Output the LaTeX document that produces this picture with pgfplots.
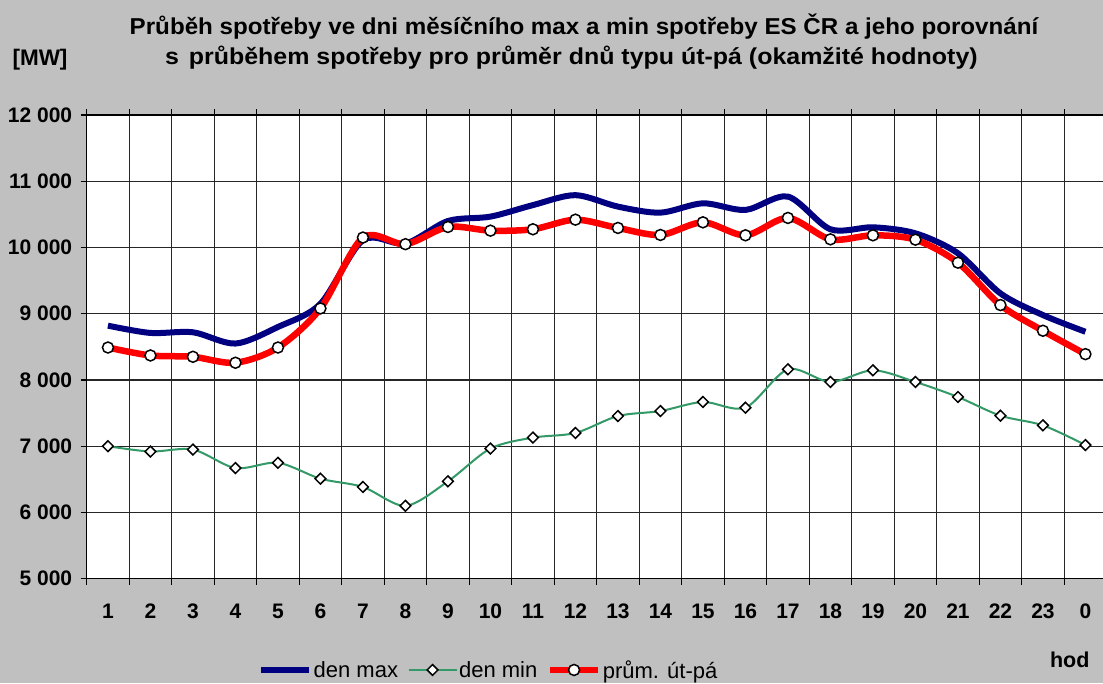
\documentclass[border=0pt]{standalone}
\usepackage{fontspec}
\setmainfont{Liberation Sans}
\usepackage{pgfplots}
\pgfplotsset{compat=1.18}
\definecolor{bg}{HTML}{C0C0C0}
\definecolor{navyc}{HTML}{000080}
\definecolor{greenc}{HTML}{339966}

\pgfplotstableread{
h max min avg
1  8820 7000 8490
2  8710 6920 8370
3  8720 6950 8350
4  8550 6670 8260
5  8800 6750 8490
6  9150 6510 9080
7  10110 6385 10150
8  10060 6100 10050
9  10400 6470 10310
10 10466 6965 10254
11 10640 7130 10275
12 10790 7200 10420
13 10617 7456 10295
14 10526 7531 10189
15 10667 7668 10380
16 10567 7582 10184
17 10768 8161 10446
18 10275 7970 10123
19 10305 8146 10184
20 10214 7970 10118
21 9912 7743 9771
22 9307 7461 9131
23 8980 7315 8743
24 8728 7018 8390
}\data

\begin{document}
\begin{tikzpicture}[x=1pt,y=1pt]
\fill[bg] (0,0) rectangle (1103,683);
\clip (0,0) rectangle (1103,683);
\begin{axis}[
  at={(86.7pt,104.3pt)}, anchor=south west,
  scale only axis, width=1020pt, height=463.7pt,
  xmin=0.5, xmax=24.5, ymin=5000, ymax=12000,
  scaled y ticks=false,
  axis background/.style={fill=white},
  xtick={1,2,3,4,5,6,7,8,9,10,11,12,13,14,15,16,17,18,19,20,21,22,23,24},
  xticklabels={1,2,3,4,5,6,7,8,9,10,11,12,13,14,15,16,17,18,19,20,21,22,23,0},
  minor xtick={0.5,1.5,...,24.5},
  xminorgrids=true, ymajorgrids=true,
  minor grid style={black!85, line width=1.2pt},
  major grid style={black!85, line width=1.2pt},
  major x tick style={draw=none},
  minor x tick style={black, line width=1.2pt},
  major y tick style={black, line width=1.2pt},
  tick align=outside, minor tick length=6pt, major tick length=6pt,
  ytick={5000,6000,7000,8000,9000,10000,11000,12000},
  yticklabels={5 000,6 000,7 000,8 000,9 000,10 000,11 000,12 000},
  ticklabel style={font=\bfseries\fontsize{21}{21}\selectfont},
  yticklabel style={xshift=-5pt},
  xticklabel style={yshift=-16pt},
  axis line style={black, line width=1.2pt},
  legend columns=3,
  legend style={at={(axis cs:4.53,3622)}, anchor=west, draw=none, fill=none,
    inner sep=0pt, font=\fontsize{22}{22}\selectfont,
    nodes={inner sep=1.5pt},
    /tikz/every even column/.append style={column sep=8pt}},
  legend image code/.code={\draw[mark repeat=2,mark phase=2,#1] plot coordinates {(0pt,0pt) (24pt,0pt) (48pt,0pt)};},
]
\addplot[navyc, line width=6pt, smooth, no markers] table[x=h,y=max] {\data};
\addlegendentry{den max}
\addplot[greenc, line width=2pt, smooth, mark=square*, mark size=3.8pt,
  mark options={fill=white, draw=black, line width=1.5pt, rotate=45}] table[x=h,y=min] {\data};
\addlegendentry{den min}
\addplot[red, line width=6.5pt, smooth, mark=*, mark size=5.5pt,
  mark options={fill=white, draw=black, line width=1.5pt}] table[x=h,y=avg] {\data};
\addlegendentry{prům. út-pá}
\end{axis}
\node[font=\bfseries\fontsize{23}{23}\selectfont, xscale=1.05] at (584,656) {Průběh spotřeby ve dni měsíčního max a min spotřeby ES ČR a jeho porovnání};
\node[font=\bfseries\fontsize{23}{23}\selectfont, xscale=1.085, anchor=west, inner sep=0pt] at (165,625) {s\hspace{9pt}průběhem spotřeby pro průměr dnů typu út-pá (okamžité hodnoty)};
\node[font=\bfseries\fontsize{22.5}{22.5}\selectfont] at (40,623) {[MW]};
\node[font=\bfseries\fontsize{21.5}{21.5}\selectfont, anchor=east] at (1093,23) {hod};
\end{tikzpicture}
\end{document}
